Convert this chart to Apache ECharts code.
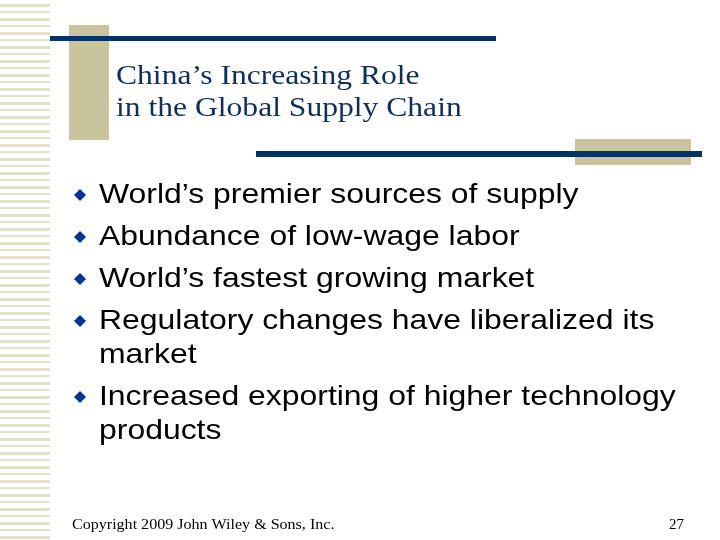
<!DOCTYPE html>
<html><head><meta charset="utf-8">
<script src="https://cdn.jsdelivr.net/npm/echarts@6/dist/echarts.min.js"></script>
<style>html,body{margin:0;padding:0;background:#fff}#c{width:720px;height:540px}</style>
</head><body><div id="c"></div>
<script>
var titleLines = ["China\u2019s Increasing Role", "in the Global Supply Chain"];
var bullets = [
  ["World\u2019s premier sources of supply"],
  ["Abundance of low-wage labor"],
  ["World\u2019s fastest growing market"],
  ["Regulatory changes have liberalized its", "market"],
  ["Increased exporting of higher technology", "products"]
];
var footer = "Copyright 2009 John Wiley & Sons, Inc.";
var pageNum = "27";

var chart = echarts.init(document.getElementById('c'));
var g = [];
var tan = '#c8c59c', navy = '#003366';
for (var y = 4, i = 0; y < 540; y += 7, i++) {
  g.push({type:'rect', shape:{x:0,y:y,width:50,height:(i%2?2:3)}, style:{fill:'#e2e0c8'}});
}
g.push({type:'rect', shape:{x:69,y:25,width:40,height:115}, style:{fill:tan}});
g.push({type:'rect', shape:{x:50,y:36,width:446,height:5}, style:{fill:navy}});
g.push({type:'rect', shape:{x:575,y:139,width:116,height:26}, style:{fill:tan}});
g.push({type:'rect', shape:{x:256,y:151,width:446,height:6}, style:{fill:navy}});
titleLines.forEach(function(t, k){
  g.push({type:'text', x:116, y:77 + k*32, scaleX:1.17, style:{text:t, fill:'#0d2f5e', font:'27px "Liberation Serif", "DejaVu Serif", serif', textVerticalAlign:'middle'}});
});
var yy = 195;
bullets.forEach(function(b){
  g.push({type:'polygon', shape:{points:[[80,yy-6],[86,yy],[80,yy+6],[74,yy]]}, style:{fill:'#003399'}});
  b.forEach(function(line, k){
    g.push({type:'text', x:99, y:yy + k*34, scaleX:1.12, style:{text:line, fill:'#000', font:'28.5px "Liberation Sans", Arial, sans-serif', textVerticalAlign:'middle'}});
  });
  yy += 42 + (b.length-1)*34;
});
g.push({type:'text', x:72, y:525, scaleX:1.07, style:{text:footer, fill:'#000', font:'15px "Liberation Serif", serif', textVerticalAlign:'middle'}});
g.push({type:'text', x:684, y:525, style:{text:pageNum, fill:'#000', font:'15px "Liberation Serif", serif', textAlign:'right', textVerticalAlign:'middle'}});
chart.setOption({animation:false, graphic:g});
</script></body></html>
